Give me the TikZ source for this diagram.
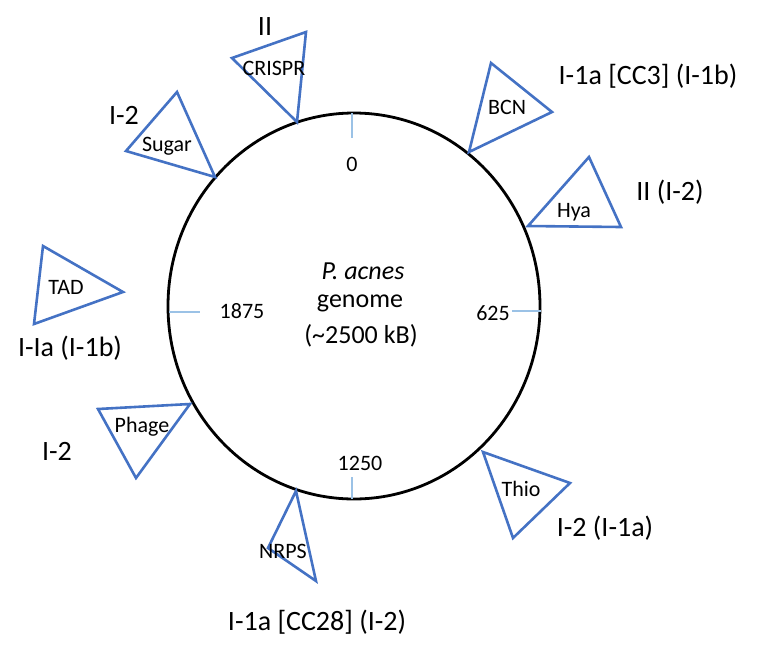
\documentclass[tikz,border=0pt]{standalone}
\usepackage{fontspec}
\setmainfont{Carlito}
\definecolor{triblue}{RGB}{68,114,196}
\definecolor{tickblue}{RGB}{155,194,230}
\begin{document}
\begin{tikzpicture}[x=1pt,y=-1pt,
  tri/.style={draw=triblue,line width=2.6pt,line join=miter},
  inner/.style={font=\fontsize{22}{24}\selectfont,inner sep=0pt},
  lab/.style={font=\fontsize{28}{30}\selectfont,inner sep=0pt},
  ticklab/.style={font=\fontsize{22}{24}\selectfont,inner sep=0pt},
  mid/.style={font=\fontsize{26}{28}\selectfont,inner sep=0pt},
  tick/.style={draw=tickblue,line width=1.4pt}]
\useasboundingbox (0,0) rectangle (766,649);
% genome circle
\draw[line width=2.8pt] (354,306) ellipse [x radius=186, y radius=193];
% ticks
\coordinate (t0a) at (352,113); \coordinate (t0b) at (352,138);
\coordinate (t1a) at (352,477); \coordinate (t1b) at (352,499);
\coordinate (t2a) at (169,312); \coordinate (t2b) at (200,312);
\coordinate (t3a) at (512,311); \coordinate (t3b) at (541,311);
\draw[tick] (t0a) -- (t0b);
\draw[tick] (t1a) -- (t1b);
\draw[tick] (t2a) -- (t2b);
\draw[tick] (t3a) -- (t3b);
\node[ticklab] (l0) at (352,164) {0};
\node[ticklab] (l1875) at (242,311) {1875};
\node[ticklab] (l625) at (493,313) {625};
\node[ticklab] (l1250) at (360,463) {1250};
% centre text
\node[mid] (pa) at (363,271) {\itshape P. acnes};
\node[mid] (gen) at (360,303) {genome};
\node[mid] (size) at (361,336) {(\textasciitilde2500 kB)};
% triangles
\coordinate (c1) at (232,58); \coordinate (c2) at (306,32); \coordinate (c3) at (297,122);
\draw[tri] (c1) -- (c2) -- (c3) -- cycle;
\coordinate (b1) at (491,63); \coordinate (b2) at (552,112); \coordinate (b3) at (469,152);
\draw[tri] (b1) -- (b2) -- (b3) -- cycle;
\coordinate (h1) at (589,157); \coordinate (h2) at (621,227); \coordinate (h3) at (528,226);
\draw[tri] (h1) -- (h2) -- (h3) -- cycle;
\coordinate (s1) at (177,92); \coordinate (s2) at (215,177); \coordinate (s3) at (126,151);
\draw[tri] (s1) -- (s2) -- (s3) -- cycle;
\coordinate (d1) at (43,246); \coordinate (d2) at (123,292); \coordinate (d3) at (34,324);
\draw[tri] (d1) -- (d2) -- (d3) -- cycle;
\coordinate (p1) at (98,409); \coordinate (p2) at (190,404); \coordinate (p3) at (136,478);
\draw[tri] (p1) -- (p2) -- (p3) -- cycle;
\coordinate (n1) at (296,491); \coordinate (n2) at (316,581); \coordinate (n3) at (268,548);
\draw[tri] (n1) -- (n2) -- (n3) -- cycle;
\coordinate (o1) at (483,452); \coordinate (o2) at (570,483); \coordinate (o3) at (513,538);
\draw[tri] (o1) -- (o2) -- (o3) -- cycle;
% inner labels
\node[inner] (crispr) at (274,68) {CRISPR};
\node[inner] (bcn) at (507,107) {BCN};
\node[inner] (hya) at (574,212) {Hya};
\node[inner] (sugar) at (167,146) {Sugar};
\node[inner] (tad) at (66,287) {TAD};
\node[inner] (phage) at (142,427) {Phage};
\node[inner] (nrps) at (283,551) {NRPS};
\node[inner] (thio) at (521,489) {Thio};
% outer labels
\node[lab] (lc) at (265,27) {II};
\node[lab] (lb) at (648,76) {I-1a [CC3] (I-1b)};
\node[lab] (lh) at (670,192) {II (I-2)};
\node[lab] (ls) at (124,115) {I-2};
\node[lab] (ld) at (70,348) {I-Ia (I-1b)};
\node[lab] (lp) at (57,451) {I-2};
\node[lab] (ln) at (317,622) {I-1a [CC28] (I-2)};
\node[lab] (lo) at (605,528) {I-2 (I-1a)};
\end{tikzpicture}
\end{document}
